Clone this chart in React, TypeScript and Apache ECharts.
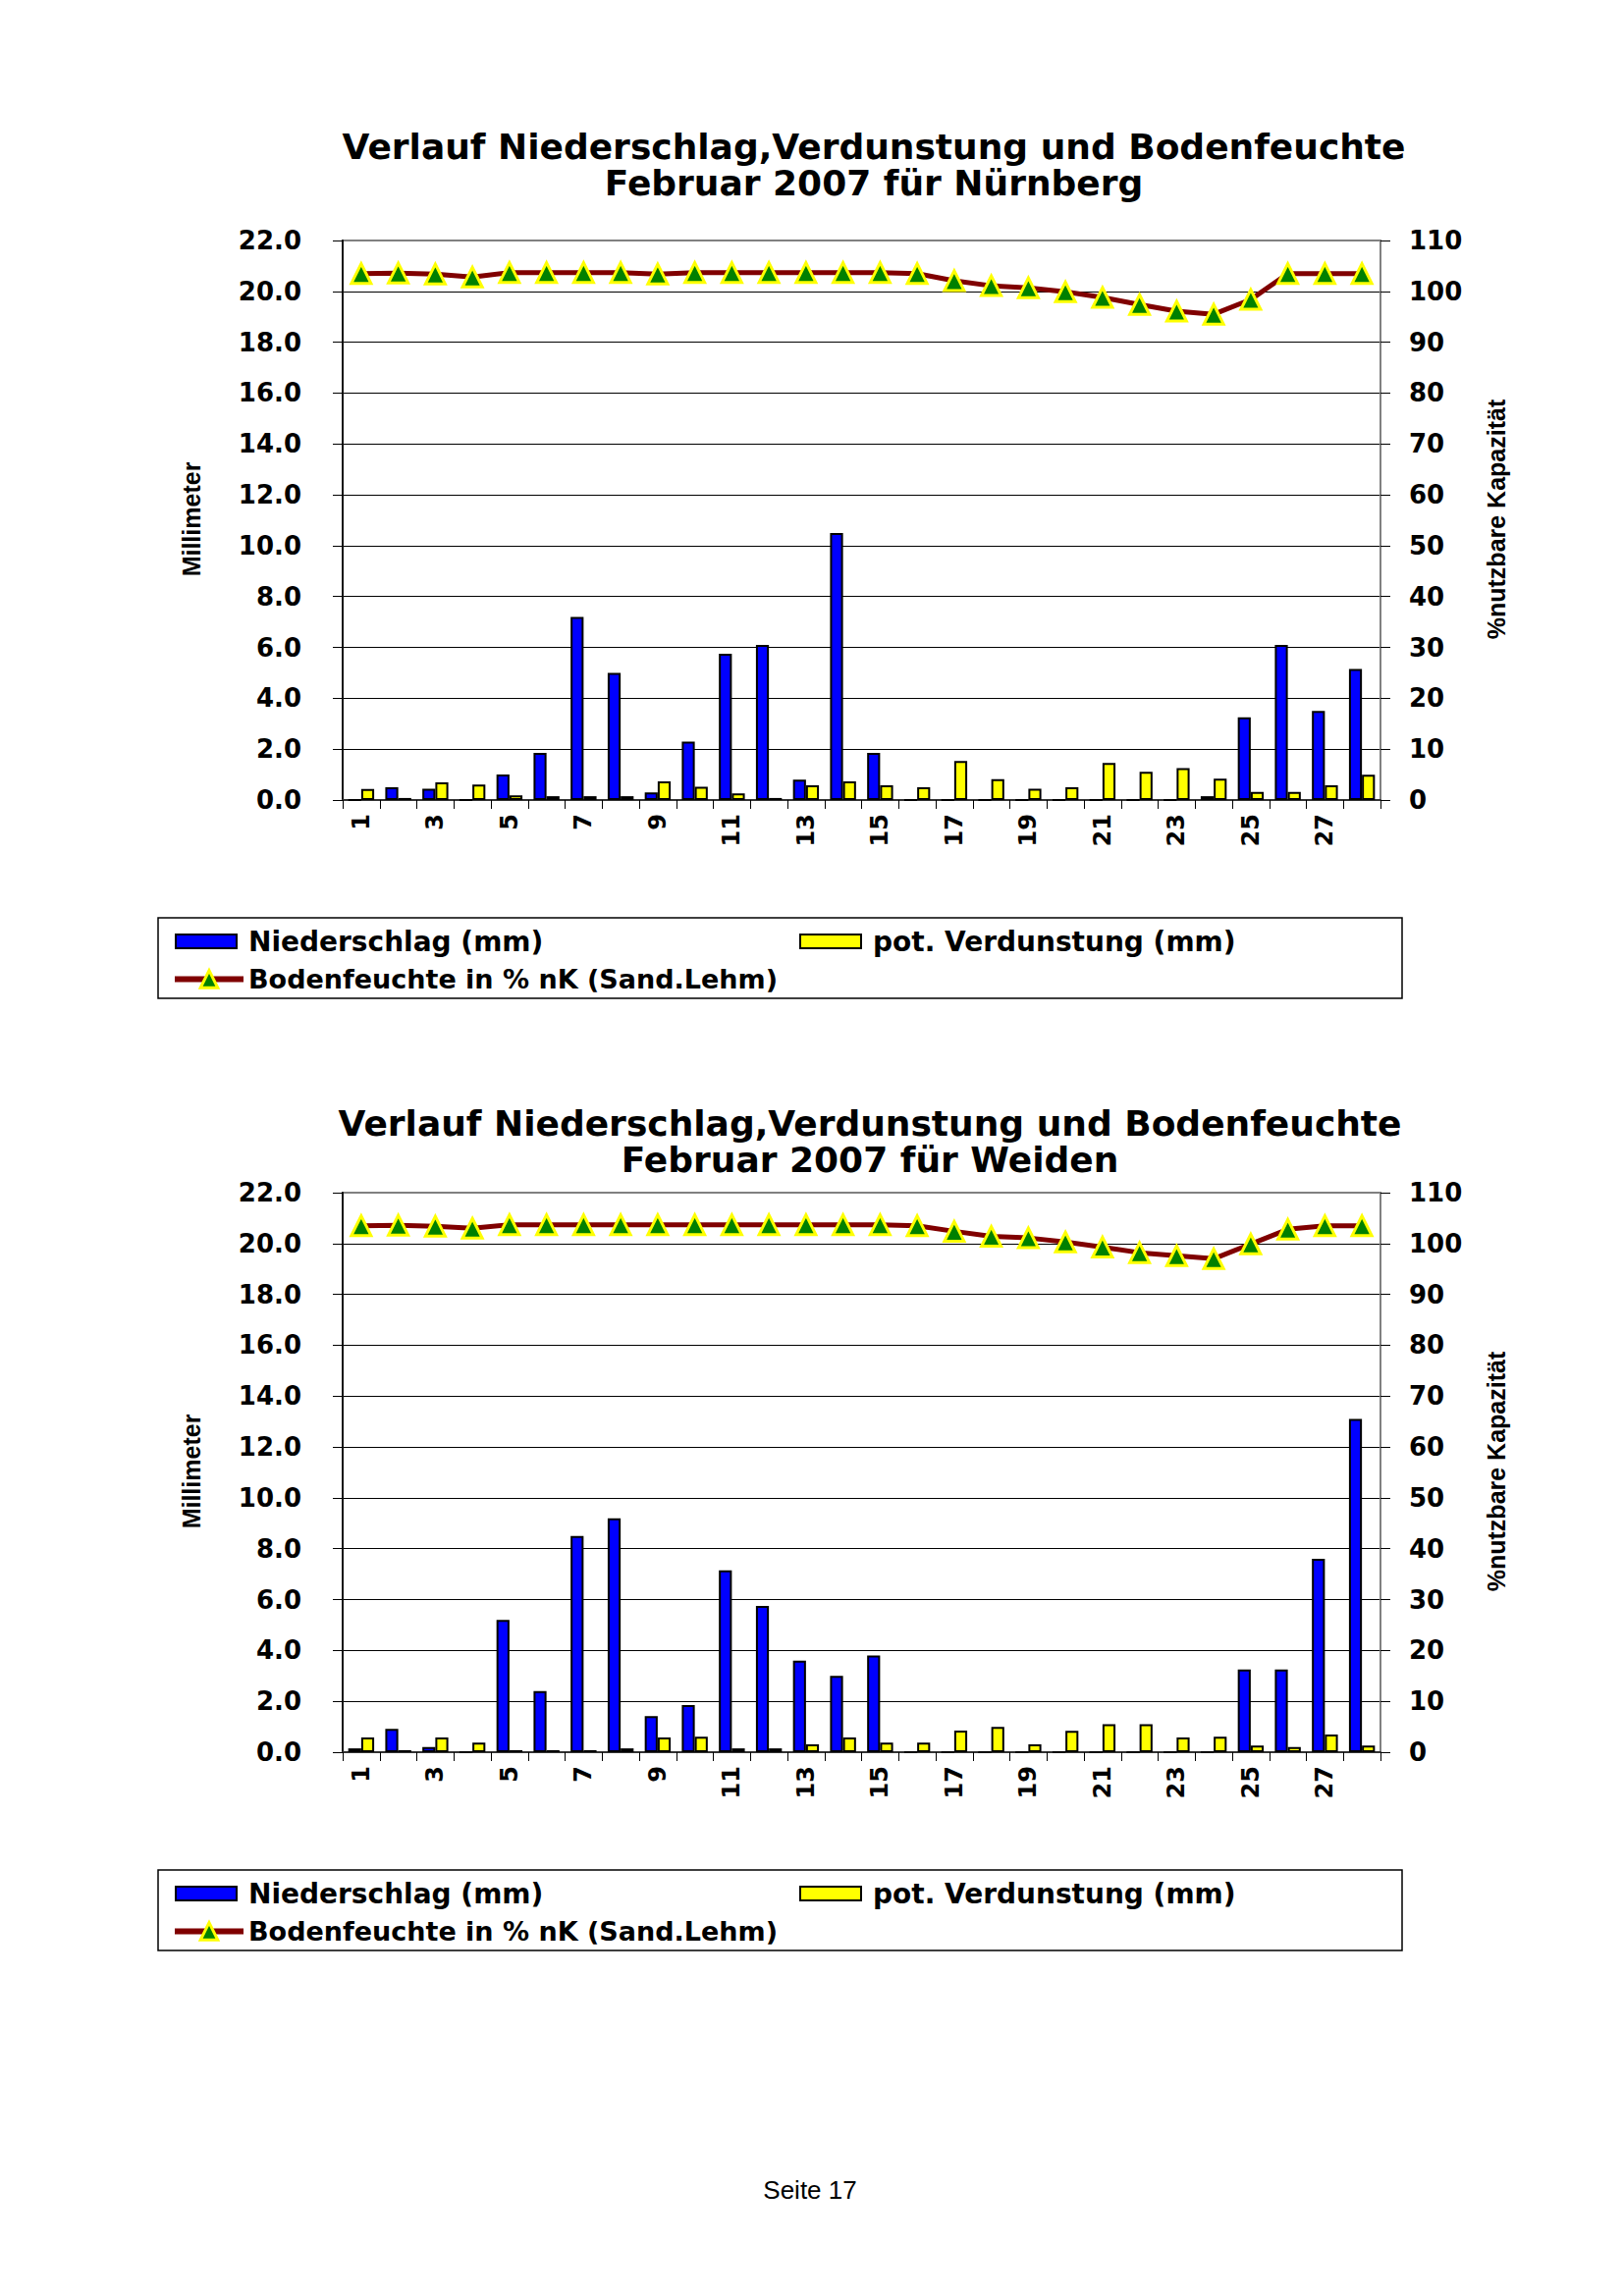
import React, { useEffect, useRef } from "react";
import * as echarts from "echarts";

const days = ["1","2","3","4","5","6","7","8","9","10","11","12","13","14","15","16","17","18","19","20","21","22","23","24","25","26","27","28"];

const nbgNied = [0, 0.5, 0.44, 0, 1.0, 1.85, 7.2, 5.0, 0.3, 2.3, 5.75, 6.1, 0.8, 10.5, 1.85, 0, 0, 0, 0, 0, 0, 0, 0, 0.15, 3.25, 6.1, 3.5, 5.15];
const nbgVerd = [0.43, 0.08, 0.69, 0.61, 0.18, 0.15, 0.15, 0.15, 0.73, 0.52, 0.26, 0.08, 0.58, 0.73, 0.58, 0.5, 1.53, 0.82, 0.44, 0.5, 1.46, 1.11, 1.25, 0.84, 0.32, 0.32, 0.58, 0.99];
const nbgBoden = [103.5, 103.6, 103.4, 102.8, 103.7, 103.7, 103.7, 103.7, 103.4, 103.7, 103.7, 103.7, 103.7, 103.7, 103.7, 103.5, 102.1, 101.1, 100.7, 99.9, 98.8, 97.4, 96.1, 95.5, 98.4, 103.5, 103.5, 103.5];

const wdnNied = [0.15, 0.92, 0.2, 0, 5.2, 2.4, 8.5, 9.2, 1.42, 1.85, 7.15, 5.75, 3.6, 3.0, 3.8, 0, 0, 0, 0, 0, 0, 0, 0, 0, 3.25, 3.25, 7.6, 13.1];
const wdnVerd = [0.58, 0.08, 0.58, 0.38, 0.08, 0.08, 0.08, 0.15, 0.58, 0.61, 0.15, 0.15, 0.31, 0.58, 0.38, 0.38, 0.85, 0.99, 0.31, 0.84, 1.1, 1.1, 0.58, 0.61, 0.26, 0.2, 0.69, 0.26];
const wdnBoden = [103.5, 103.6, 103.4, 103.0, 103.7, 103.7, 103.7, 103.7, 103.7, 103.7, 103.7, 103.7, 103.7, 103.7, 103.7, 103.5, 102.4, 101.4, 101.1, 100.3, 99.3, 98.2, 97.6, 97.0, 99.9, 102.8, 103.5, 103.5];

const titleLine1 = "Verlauf Niederschlag,Verdunstung und Bodenfeuchte";
const stations = ["Nürnberg", "Weiden"];
const seriesNames = ["Niederschlag (mm)", "pot. Verdunstung (mm)", "Bodenfeuchte in % nK (Sand.Lehm)"];
const leftAxisName = "Millimeter";
const rightAxisName = "%nutzbare Kapazität";
const footer = "Seite 17";

const BOLD = "DejaVu Sans";

function buildOption() {
  const datasets = [
    { nied: nbgNied, verd: nbgVerd, boden: nbgBoden },
    { nied: wdnNied, verd: wdnVerd, boden: wdnBoden },
  ];
  const plotTops = [245, 1215];
  const titleTops = [126, 1121];
  const titleX = [885, 881];
  const legendTops = [935, 1905];

  const grid: any[] = [];
  const xAxis: any[] = [];
  const yAxis: any[] = [];
  const series: any[] = [];
  const title: any[] = [];
  const legend: any[] = [];
  const graphic: any[] = [];

  datasets.forEach((d, i) => {
    const top = plotTops[i];
    grid.push({
      left: 349, top, width: 1057, height: 570,
      show: true, borderColor: "#808080", borderWidth: 2, backgroundColor: "#fff",
    });
    xAxis.push({
      type: "category", gridIndex: i, data: days, boundaryGap: true,
      axisLine: { show: true, lineStyle: { color: "#333", width: 2 } },
      axisTick: { show: true, interval: 0, length: 9, alignWithLabel: false, lineStyle: { color: "#000", width: 1 } },
      axisLabel: { interval: 1, rotate: 90, margin: 14, color: "#000", fontFamily: BOLD, fontWeight: "bold", fontSize: 24 },
      splitLine: { show: false },
    });
    yAxis.push({
      type: "value", gridIndex: i, min: 0, max: 22, interval: 2, position: "left",
      axisLine: { show: true, lineStyle: { color: "#111", width: 2 } },
      axisTick: { show: true, length: 10, lineStyle: { color: "#000" } },
      axisLabel: { formatter: (v: number) => v.toFixed(1), margin: 42, color: "#000", fontFamily: BOLD, fontWeight: "bold", fontSize: 26 },
      splitLine: { show: true, showMaxLine: false, showMinLine: false, lineStyle: { color: "#000", width: 1.2 } },
    });
    yAxis.push({
      type: "value", gridIndex: i, min: 0, max: 110, interval: 10, position: "right",
      axisLine: { show: true, lineStyle: { color: "#808080", width: 2 } },
      axisTick: { show: true, length: 10, lineStyle: { color: "#000" } },
      axisLabel: { margin: 29, color: "#000", fontFamily: BOLD, fontWeight: "bold", fontSize: 26 },
      splitLine: { show: false },
    });
    series.push({
      type: "bar", name: seriesNames[0], xAxisIndex: i, yAxisIndex: 2 * i, data: d.nied,
      barGap: "0%", barCategoryGap: "30%",
      itemStyle: { color: "#0000FF", borderColor: "#000", borderWidth: 2 },
    });
    series.push({
      type: "bar", name: seriesNames[1], xAxisIndex: i, yAxisIndex: 2 * i, data: d.verd,
      barGap: "0%", barCategoryGap: "30%",
      itemStyle: { color: "#FFFF00", borderColor: "#000", borderWidth: 2 },
    });
    series.push({
      type: "line", name: seriesNames[2], xAxisIndex: i, yAxisIndex: 2 * i + 1, data: d.boden,
      symbol: "triangle", symbolSize: 20, z: 5,
      lineStyle: { color: "#800000", width: 5 },
      itemStyle: { color: "#008000", borderColor: "#FFFF00", borderWidth: 3 },
    });
    title.push({
      text: titleLine1 + "\nFebruar 2007 für " + stations[i],
      left: titleX[i], top: titleTops[i], textAlign: "center",
      textStyle: { fontFamily: BOLD, fontWeight: "bold", fontSize: 36, lineHeight: 37, color: "#000" },
    });
    const lt = legendTops[i];
    const legText = { fontFamily: BOLD, fontWeight: "bold", fontSize: 28, color: "#000", padding: [0, 0, 0, 7] };
    legend.push({
      data: [seriesNames[0]], left: 173, top: lt + 5, itemWidth: 62, itemHeight: 14, icon: "rect",
      textStyle: legText, selectedMode: false,
    });
    legend.push({
      data: [seriesNames[1]], left: 809, top: lt + 5, itemWidth: 62, itemHeight: 14, icon: "rect",
      textStyle: legText, selectedMode: false,
    });
    legend.push({
      data: [seriesNames[2]], left: 170, top: lt + 44, itemWidth: 70, itemHeight: 22,
      lineStyle: { color: "#800000", width: 6 },
      itemStyle: { color: "#008000", borderColor: "#FFFF00", borderWidth: 3 },
      textStyle: { ...legText, fontSize: 27, padding: [0, 0, 0, 0] }, selectedMode: false,
    });
    graphic.push({
      type: "rect", shape: { x: 161, y: lt, width: 1267, height: 82 },
      style: { fill: "none", stroke: "#000", lineWidth: 1.5 }, z: -1,
    });
    graphic.push({
      type: "text", x: 195, y: top + 284, rotation: Math.PI / 2,
      style: { text: leftAxisName, fontFamily: "Liberation Sans", fontWeight: "bold", fontSize: 25, fill: "#000", align: "center", verticalAlign: "middle" },
    });
    graphic.push({
      type: "text", x: 1524, y: top + 284, rotation: Math.PI / 2,
      style: { text: rightAxisName, fontFamily: "Liberation Sans", fontWeight: "bold", fontSize: 25, fill: "#000", align: "center", verticalAlign: "middle" },
    });
  });

  graphic.push({
    type: "text", x: 825, y: 2231,
    style: { text: footer, fontFamily: "Liberation Sans", fontSize: 26, fill: "#000", align: "center", verticalAlign: "middle" },
  });

  return {
    animation: false,
    backgroundColor: "#fff",
    title, legend, grid, xAxis, yAxis, series, graphic,
  };
}

export default function App() {
  const ref = useRef<HTMLDivElement>(null);
  useEffect(() => {
    document.body.style.margin = "0";
    if (!ref.current) return;
    const chart = echarts.init(ref.current, undefined, { renderer: "svg" });
    chart.setOption(buildOption() as any);
    return () => chart.dispose();
  }, []);
  return (
    <div
      ref={ref}
      style={{ position: "absolute", left: 0, top: 0, width: 1653, height: 2339, background: "#fff" }}
    />
  );
}
